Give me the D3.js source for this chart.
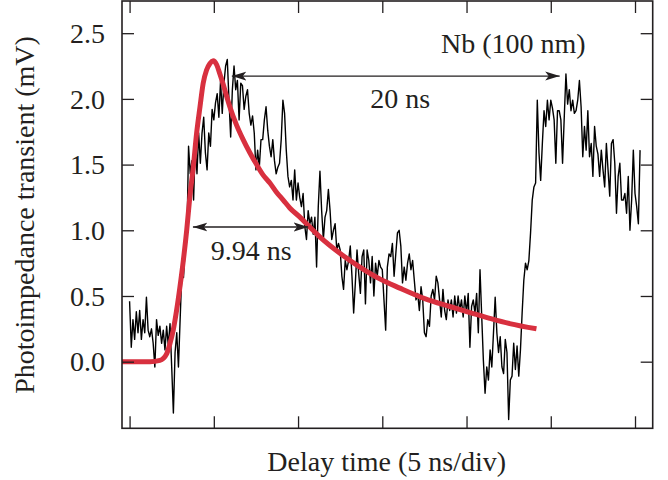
<!DOCTYPE html>
<html>
<head>
<meta charset="utf-8">
<script src="https://cdn.jsdelivr.net/npm/d3@7"></script>
<style>
  html, body { margin: 0; padding: 0; background: #fff; }
  svg { display: block; }
</style>
</head>
<body>
<div id="chart"></div>
<script>
// Measured photoimpedance trace (mV), sampled every 0.1 ns from t = 0
const sampleStep = 0.1;
const signal = [
  0.46, 0.11, 0.32, 0.17, 0.38, 0.22, 0.39, 0.17, 0.32, 0.22,
  0.49, 0.24, 0.19, 0.25, 0.14, -0.04, 0.32, 0.20, 0.27, 0.14,
  0.24, 0.09, 0.27, 0.12, 0.29, -0.04, -0.39, 0.07, 0.22, -0.04,
  0.32, 0.67, 0.64, 0.87, 0.92, 1.64, 1.43, 1.53, 1.23, 1.66,
  1.43, 1.74, 1.51, 1.74, 1.86, 1.59, 1.46, 1.74, 1.64, 1.92,
  1.84, 1.97, 2.04, 1.86, 2.14, 1.89, 2.12, 2.25, 2.30, 1.99,
  1.71, 2.07, 2.25, 2.07, 2.14, 1.84, 2.12, 2.10, 1.92, 2.02,
  2.07, 1.89, 1.80, 1.87, 1.74, 1.46, 1.61, 1.48, 1.69, 1.69,
  1.84, 1.94, 1.76, 1.64, 1.56, 1.69, 1.53, 1.43, 1.48, 1.51,
  1.69, 1.99, 1.89, 1.61, 1.41, 1.33, 1.38, 1.23, 1.46, 1.23,
  1.36, 1.25, 1.18, 1.28, 1.03, 0.93, 1.15, 1.05, 1.10, 0.97,
  1.10, 0.72, 1.18, 1.45, 1.15, 0.93, 1.10, 1.15, 1.31, 1.15,
  0.93, 1.00, 1.05, 0.85, 0.90, 0.85, 0.65, 0.55, 0.77, 0.70,
  0.77, 0.88, 0.65, 0.37, 0.60, 0.85, 0.67, 0.52, 0.80, 0.85,
  0.44, 0.85, 0.77, 0.60, 0.80, 0.50, 0.75, 0.65, 0.77, 0.72,
  0.70, 0.47, 0.24, 0.72, 0.82, 0.80, 0.90, 0.65, 0.82, 0.98,
  1.00, 0.88, 0.60, 0.72, 0.62, 0.75, 0.82, 0.70, 0.77, 0.62,
  0.47, 0.52, 0.39, 0.57, 0.47, 0.22, 0.19, 0.32, 0.27, 0.50,
  0.55, 0.47, 0.65, 0.60, 0.47, 0.34, 0.55, 0.39, 0.32, 0.47,
  0.39, 0.47, 0.34, 0.50, 0.37, 0.50, 0.39, 0.47, 0.34, 0.50,
  0.37, 0.52, 0.11, 0.42, 0.47, 0.37, 0.52, 0.22, 0.70, 0.35,
  0.01, -0.24, -0.04, -0.14, 0.09, -0.04, 0.22, 0.49, 0.22, 0.07,
  0.19, -0.04, -0.09, 0.17, 0.07, -0.44, -0.14, -0.11, 0.14, -0.06,
  0.12, -0.11, 0.09, 0.37, 0.62, 0.75, 0.70, 0.77, 0.98, 1.23,
  1.33, 1.36, 1.99, 1.59, 1.38, 1.66, 1.91, 1.79, 1.99, 1.84,
  1.99, 1.93, 1.84, 1.51, 1.91, 1.91, 1.84, 1.51, 1.86, 2.19,
  1.96, 2.07, 1.91, 1.99, 1.89, 1.91, 1.99, 2.14, 1.94, 1.56,
  1.79, 1.61, 1.91, 1.56, 1.66, 1.41, 1.79, 1.64, 1.58, 1.41,
  1.61, 1.46, 1.33, 1.66, 1.46, 1.26, 1.66, 1.69, 1.51, 1.13,
  1.41, 1.51, 1.23, 1.23, 1.28, 1.13, 1.41, 1.00, 1.23, 1.61,
  1.28, 1.18, 1.05, 1.61
];

// Fit curve: time (ns) and value (mV)
const fitTime = [
  -0.45, 1.21, 1.80, 2.20, 2.40, 2.59, 2.79, 2.99, 3.19, 3.39,
  3.58, 3.78, 3.98, 4.18, 4.37, 4.57, 4.77, 4.96, 5.17, 5.36,
  5.56, 5.76, 5.95, 6.35, 6.74, 7.14, 7.54, 7.93, 8.33, 8.72,
  9.12, 9.51, 10.11, 10.58, 11.29, 12.54, 13.67, 14.85, 16.04, 17.52,
  19.01, 20.31, 21.38, 22.56, 24.15
];
const fitValue = [
  0.00, 0.00, 0.01, 0.06, 0.14, 0.24, 0.39, 0.57, 0.77, 1.00,
  1.26, 1.48, 1.74, 1.94, 2.12, 2.22, 2.27, 2.29, 2.26, 2.19,
  2.11, 2.02, 1.94, 1.80, 1.69, 1.59, 1.50, 1.42, 1.36, 1.29,
  1.23, 1.17, 1.10, 1.04, 0.95, 0.82, 0.72, 0.63, 0.56, 0.48,
  0.42, 0.37, 0.33, 0.29, 0.25
];

const xTicks = [0, 5, 10, 15, 20, 25, 30];
const yTicks = [0, 0.5, 1.0, 1.5, 2.0, 2.5];

// Annotations: [t start, t end, value] and labels
const arrow20 = [6.07, 25.53, 2.174];
const arrow994 = [3.76, 10.6, 1.025];
const labels = ["Nb (100 nm)", "20 ns", "9.94 ns"];

const width = 668;
const height = 480;
const font = "'Liberation Serif', 'Times New Roman', serif";
const ink = "#231f20";

const x = d3.scaleLinear().domain([-0.45, 31.05]).range([122, 652.7]);
const y = d3.scaleLinear().domain([-0.507, 2.745]).range([428.3, 1]);

const svg = d3.select("#chart")
  .append("svg")
  .attr("width", width)
  .attr("height", height)
  .attr("viewBox", [0, 0, width, height]);

svg.append("defs").append("clipPath")
  .attr("id", "plot-clip")
  .append("rect")
  .attr("x", 122).attr("y", 1)
  .attr("width", 652.7 - 122).attr("height", 428.3 - 1);

// Arrow heads
const defs = svg.select("defs");
["end", "start"].forEach((kind) => {
  defs.append("marker")
    .attr("id", "arrow-" + kind)
    .attr("markerUnits", "userSpaceOnUse")
    .attr("viewBox", "0 0 15 10")
    .attr("markerWidth", 15)
    .attr("markerHeight", 10)
    .attr("refX", 14.5)
    .attr("refY", 5)
    .attr("orient", kind === "end" ? "auto" : "auto-start-reverse")
    .append("path")
    .attr("d", "M0,0.5 L14.5,5 L0,9.5 L3.5,5 Z")
    .attr("fill", ink);
});

const plot = svg.append("g").attr("clip-path", "url(#plot-clip)");

// Black measured trace
const traceLine = d3.line()
  .x((d, i) => x(i * sampleStep))
  .y((d) => y(d));

plot.append("path")
  .datum(signal)
  .attr("fill", "none")
  .attr("stroke", "#000")
  .attr("stroke-width", 1.4)
  .attr("stroke-linejoin", "round")
  .attr("d", traceLine);

// Red fit
const fitLine = d3.line()
  .curve(d3.curveMonotoneX)
  .x((d) => x(d[0]))
  .y((d) => y(d[1]));

plot.append("path")
  .datum(d3.zip(fitTime, fitValue))
  .attr("fill", "none")
  .attr("stroke", "#d8303f")
  .attr("stroke-width", 5)
  .attr("stroke-linejoin", "round")
  .attr("d", fitLine);

// Frame and axes
const axisStyle = (g) => {
  g.select(".domain").remove();
  g.selectAll(".tick line").attr("stroke", ink).attr("stroke-width", 1.3);
  g.selectAll(".tick text")
    .attr("fill", ink)
    .attr("font-family", font)
    .attr("font-size", "28px");
};

svg.append("g")
  .attr("transform", "translate(0,428.3)")
  .call(d3.axisBottom(x).tickValues(xTicks).tickSizeInner(-12).tickSizeOuter(0).tickFormat(""))
  .call(axisStyle);

svg.append("g")
  .attr("transform", "translate(0,1)")
  .call(d3.axisTop(x).tickValues(xTicks).tickSizeInner(-12).tickSizeOuter(0).tickFormat(""))
  .call(axisStyle);

svg.append("g")
  .attr("transform", "translate(122,0)")
  .call(d3.axisLeft(y).tickValues(yTicks).tickSizeInner(-12).tickSizeOuter(0)
    .tickPadding(17).tickFormat(d3.format(".1f")))
  .call(axisStyle)
  .call((g) => g.selectAll(".tick text").attr("dy", "0.33em"));

svg.append("g")
  .attr("transform", "translate(652.7,0)")
  .call(d3.axisRight(y).tickValues(yTicks).tickSizeInner(-12).tickSizeOuter(0).tickFormat(""))
  .call(axisStyle);

svg.append("rect")
  .attr("x", 122).attr("y", 1)
  .attr("width", 652.7 - 122).attr("height", 428.3 - 1)
  .attr("fill", "none")
  .attr("stroke", ink)
  .attr("stroke-width", 1.6);

// Axis titles
svg.append("text")
  .attr("x", 386.7)
  .attr("y", 471)
  .attr("text-anchor", "middle")
  .attr("font-family", font)
  .attr("font-size", "28px")
  .attr("fill", ink)
  .text("Delay time (5 ns/div)");

svg.append("text")
  .attr("transform", "translate(34,215) rotate(-90)")
  .attr("text-anchor", "middle")
  .attr("font-family", font)
  .attr("font-size", "28px")
  .attr("fill", ink)
  .text("Photoimpedance transient (mV)");

// Double-headed arrows
[arrow20, arrow994].forEach((a) => {
  svg.append("line")
    .attr("x1", x(a[0])).attr("x2", x(a[1]))
    .attr("y1", y(a[2])).attr("y2", y(a[2]))
    .attr("stroke", ink)
    .attr("stroke-width", 1.3)
    .attr("marker-start", "url(#arrow-start)")
    .attr("marker-end", "url(#arrow-end)");
});

// Annotation labels
const notes = [
  { text: labels[0], x: 441, y: 53, anchor: "start" },
  { text: labels[1], x: 400.3, y: 108.3, anchor: "middle" },
  { text: labels[2], x: 251.3, y: 260, anchor: "middle" }
];

svg.append("g")
  .selectAll("text")
  .data(notes)
  .join("text")
  .attr("x", (d) => d.x)
  .attr("y", (d) => d.y)
  .attr("text-anchor", (d) => d.anchor)
  .attr("font-family", font)
  .attr("font-size", "28px")
  .attr("fill", ink)
  .text((d) => d.text);
</script>
</body>
</html>
